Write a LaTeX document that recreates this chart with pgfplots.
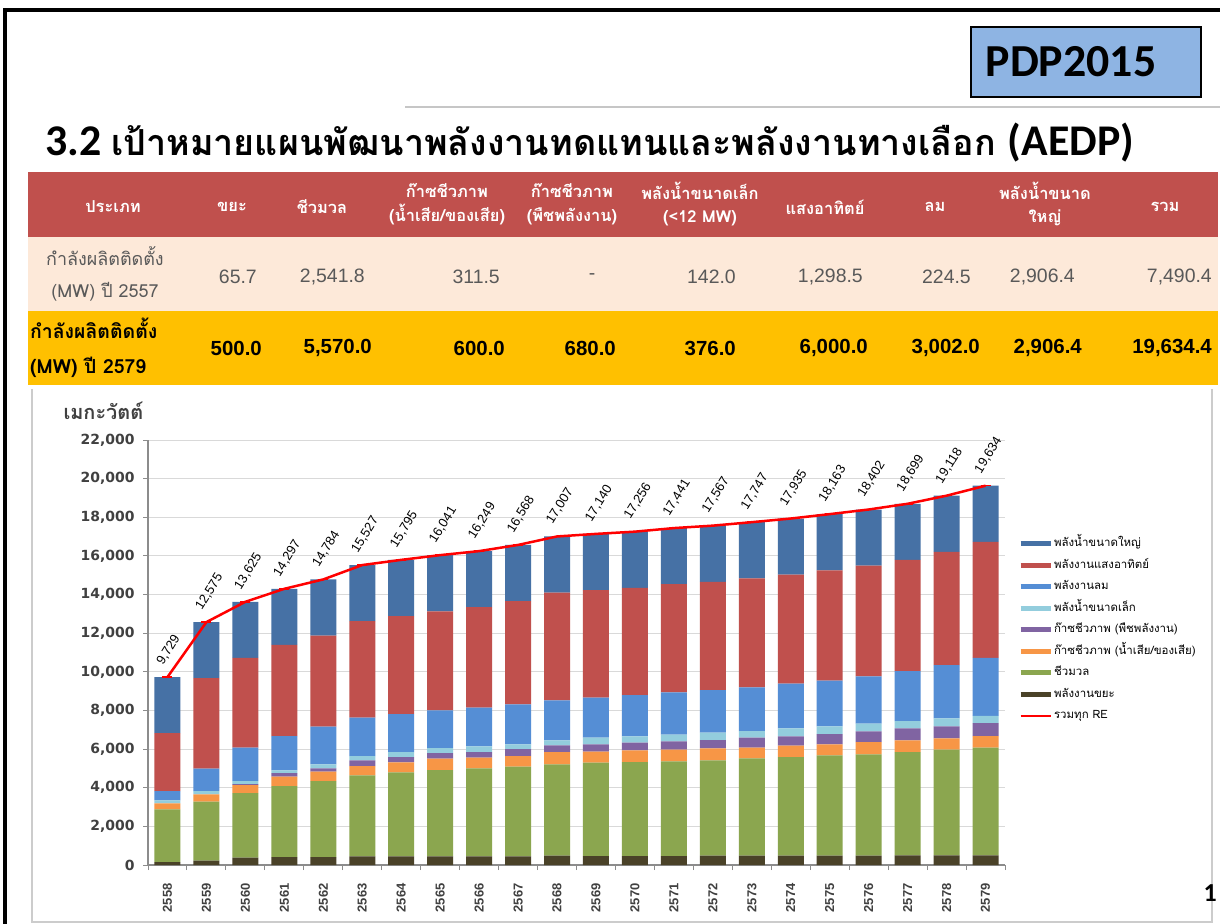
\documentclass[border=0pt]{standalone}
\usepackage{fontspec}
\usepackage{pgfplots}
\usepackage{pgfplotstable}
\pgfplotsset{compat=1.18}
\setmainfont{Liberation Sans}
\newfontfamily\thai[Script=Thai]{Loma}
\newfontfamily\carl{Carlito}
\newfontfamily\dejavu{DejaVu Sans}
\newfontfamily\libs{Liberation Sans}
\definecolor{chydro}{HTML}{4671A5}
\definecolor{csolar}{HTML}{C0504D}
\definecolor{cwind}{HTML}{558ED5}
\definecolor{csh}{HTML}{93CDDD}
\definecolor{cbgc}{HTML}{8064A2}
\definecolor{cbgw}{HTML}{F79646}
\definecolor{cbio}{HTML}{8BA64F}
\definecolor{cwaste}{HTML}{4A4228}
\definecolor{totred}{HTML}{FF0000}
\definecolor{gridgray}{HTML}{D9D9D9}
\definecolor{axisgray}{HTML}{8C8C8C}
\definecolor{tickgray}{HTML}{404040}
\definecolor{hdrred}{HTML}{C0504D}
\definecolor{row1}{HTML}{FDE9D9}
\definecolor{row2}{HTML}{FFC000}
\definecolor{pdpblue}{HTML}{8EB4E3}
\definecolor{row1txt}{HTML}{595959}

\pgfplotstableread{
x waste bio bgw bgc sh wind solar hydro total
0 155 2726 310 0 156 483 2993 2906 9729
1 224 3054 379 0 173 1155 4684 2906 12575
2 380 3346 414 50 157 1725 4647 2906 13625
3 414 3674 483 190 138 1777 4715 2906 14297
4 414 3933 483 173 207 1949 4719 2906 14784
5 449 4191 483 294 224 1984 4996 2906 15527
6 449 4347 517 276 259 1966 5075 2906 15795
7 449 4467 587 293 259 1949 5131 2906 16041
8 449 4554 552 293 293 2001 5201 2906 16249
9 449 4640 552 362 242 2070 5347 2906 16568
10 483 4727 638 345 259 2070 5579 2906 17007
11 466 4830 569 380 345 2070 5574 2906 17140
12 466 4864 604 397 328 2139 5552 2906 17256
13 466 4899 604 431 345 2191 5599 2906 17441
14 480 4937 621 431 379 2208 5605 2906 17567
15 480 5040 552 518 345 2259 5647 2906 17747
16 480 5109 587 483 414 2311 5645 2906 17935
17 490 5185 570 534 397 2363 5718 2906 18163
18 490 5237 638 552 397 2450 5732 2906 18402
19 500 5348 604 621 379 2588 5753 2906 18699
20 500 5469 586 621 414 2760 5862 2906 19118
21 500 5570 600 680 376 3002 6000 2906.4 19634.4
}\data

\begin{document}
\begin{tikzpicture}
\path[use as bounding box, fill=white] (0,0) rectangle (1220bp,-924bp);
\begin{scope}[x=1bp,y=-1bp]
 % slide border
 \draw[black, line width=3bp] (5,924) -- (5,10) -- (1220,10);
 \draw[gray!45, line width=2bp] (405,107) -- (1220,107);
 % PDP box
 \draw[fill=pdpblue, draw=black, line width=1.2bp] (971,27) rectangle (1201,97);
 \node[font=\carl\bfseries\fontsize{46}{46}\selectfont] at (1071,62) {PDP2015};
 % title
 \node[anchor=base west, inner sep=0] at (45,155) {\carl\bfseries\fontsize{44}{44}\selectfont 3.2 \thai\bfseries\fontsize{36}{44}\selectfont เป้าหมายแผนพัฒนาพลังงานทดแทนและพลังงานทางเลือก \carl\bfseries\fontsize{44}{44}\selectfont(AEDP)};
 % table
 \fill[hdrred] (28,172) rectangle (1218,237);
 \fill[row1] (28,237) rectangle (1218,311);
 \fill[row2] (28,311) rectangle (1218,385);
 \begin{scope}[every node/.style={font=\thai\bfseries\fontsize{16.5}{24}\selectfont, text=white, align=center}]
  \node at (113,207) {ประเภท};
  \node at (232,207) {ขยะ};
  \node at (322,207) {ชีวมวล};
  \node at (447,204) {ก๊าซชีวภาพ\\(น้ำเสีย/ของเสีย)};
  \node at (572,204) {ก๊าซชีวภาพ\\(พืชพลังงาน)};
  \node at (700,204) {พลังน้ำขนาดเล็ก\\(<12 MW)};
  \node at (825,207) {แสงอาทิตย์};
  \node at (935,207) {ลม};
  \node at (1045,204) {พลังน้ำขนาด\\ใหญ่};
  \node at (1165,207) {รวม};
 \end{scope}
 \begin{scope}[every node/.style={font=\libs\fontsize{19.5}{19.5}\selectfont, text=row1txt, inner sep=0}]
  \node[align=center, font=\thai\fontsize{18}{32}\selectfont] at (105,274) {กำลังผลิตติดตั้ง\\(MW) ปี 2557};
  \node[anchor=east] at (257,277) {65.7};
  \node[anchor=east] at (365,277) {2,541.8};
  \node[anchor=east] at (500,277) {311.5};
  \node at (592,277) {-};
  \node[anchor=east] at (736,277) {142.0};
  \node[anchor=east] at (863,277) {1,298.5};
  \node[anchor=east] at (971,277) {224.5};
  \node[anchor=east] at (1075,277) {2,906.4};
  \node[anchor=east] at (1212,277) {7,490.4};
 \end{scope}
 \begin{scope}[every node/.style={font=\libs\bfseries\fontsize{20.5}{20.5}\selectfont, text=black, inner sep=0}]
  \node[align=left, anchor=west, font=\thai\bfseries\fontsize{19.5}{35}\selectfont] at (30,348) {กำลังผลิตติดตั้ง\\(MW) ปี 2579};
  \node[anchor=east] at (262,348) {500.0};
  \node[anchor=east] at (372,348) {5,570.0};
  \node[anchor=east] at (505,348) {600.0};
  \node[anchor=east] at (616,348) {680.0};
  \node[anchor=east] at (736,348) {376.0};
  \node[anchor=east] at (868,348) {6,000.0};
  \node[anchor=east] at (980,348) {3,002.0};
  \node[anchor=east] at (1082,348) {2,906.4};
  \node[anchor=east] at (1212,348) {19,634.4};
 \end{scope}
 % chart frame
 \draw[gray!40, line width=1.5bp] (32,389) -- (32,922) -- (1212,922) -- (1212,389);
 \node[anchor=west, font=\thai\bfseries\fontsize{20}{20}\selectfont, text=tickgray] at (60,411) {เมกะวัตต์};
 \node[font=\carl\bfseries\fontsize{26}{26}\selectfont, anchor=west] at (1200,893) {1};
\end{scope}

\begin{axis}[
  at={(148bp,-865bp)}, anchor=south west,
  scale only axis, width=857bp, height=425bp,
  ybar stacked, bar width=26bp,
  xmin=-0.5, xmax=21.5, ymin=0, ymax=22000,
  enlargelimits=false,
  axis x line*=bottom, axis y line*=left,
  axis line style={draw=axisgray, line width=1.2bp},
  ytick={0,2000,...,22000},
  ymajorgrids=true,
  grid style={draw=gridgray, line width=1bp},
  xtick={-0.5,0.5,...,21.5},
  x tick label as interval,
  xticklabels={2558,2559,2560,2561,2562,2563,2564,2565,2566,2567,2568,2569,2570,2571,2572,2573,2574,2575,2576,2577,2578,2579},
  tick align=outside,
  major tick length=5bp,
  tick style={draw=axisgray, line width=1bp},
  scaled y ticks=false,
  /pgf/number format/assume math mode=true,
  /pgf/number format/1000 sep={,},
  yticklabel style={font=\dejavu\bfseries\fontsize{14}{14}\selectfont, text=tickgray, xshift=-5bp},
  xticklabel style={yshift=-10bp, rotate=90, anchor=east, font=\libs\bfseries\fontsize{13}{13}\selectfont, text=tickgray},
  legend cell align=left,
  legend style={at={(1.015,0.77)}, anchor=north west, draw=none, fill=none,
    font=\thai\fontsize{11.5}{12}\selectfont, row sep=9.5bp, inner sep=0pt,
    nodes={inner sep=1bp, text height=8bp, text depth=2bp}},
  legimg/.style={legend image code/.code={\draw[line width=5bp,draw=#1](0bp,0bp)--(30bp,0bp);}},
]
\addplot[fill=cwaste, draw=none, forget plot] table[x=x,y=waste]{\data};
\addplot[fill=cbio, draw=none, forget plot] table[x=x,y=bio]{\data};
\addplot[fill=cbgw, draw=none, forget plot] table[x=x,y=bgw]{\data};
\addplot[fill=cbgc, draw=none, forget plot] table[x=x,y=bgc]{\data};
\addplot[fill=csh, draw=none, forget plot] table[x=x,y=sh]{\data};
\addplot[fill=cwind, draw=none, forget plot] table[x=x,y=wind]{\data};
\addplot[fill=csolar, draw=none, forget plot] table[x=x,y=solar]{\data};
\addplot[fill=chydro, draw=none, forget plot] table[x=x,y=hydro]{\data};
\addlegendimage{legimg=chydro}\addlegendentry{พลังน้ำขนาดใหญ่}
\addlegendimage{legimg=csolar}\addlegendentry{พลังงานแสงอาทิตย์}
\addlegendimage{legimg=cwind}\addlegendentry{พลังงานลม}
\addlegendimage{legimg=csh}\addlegendentry{พลังน้ำขนาดเล็ก}
\addlegendimage{legimg=cbgc}\addlegendentry{ก๊าซชีวภาพ (พืชพลังงาน)}
\addlegendimage{legimg=cbgw}\addlegendentry{ก๊าซชีวภาพ (น้ำเสีย/ของเสีย)}
\addlegendimage{legimg=cbio}\addlegendentry{ชีวมวล}
\addlegendimage{legimg=cwaste}\addlegendentry{พลังงานขยะ}
\addlegendimage{legend image code/.code={\draw[line width=2bp,draw=totred](0bp,0bp)--(30bp,0bp);}}\addlegendentry{รวมทุก RE}
\end{axis}

\begin{axis}[
  at={(148bp,-865bp)}, anchor=south west,
  scale only axis, width=857bp, height=425bp,
  xmin=-0.5, xmax=21.5, ymin=0, ymax=22000,
  enlargelimits=false, axis lines=none, clip=false,
]
\addplot[draw=totred, line width=2.5bp,
  mark=-, mark size=5bp, mark options={solid, line width=1.5bp},
  point meta=y,
  nodes near coords={\pgfmathprintnumber[fixed,precision=0,1000 sep={,},assume math mode=true]{\pgfplotspointmeta}},
  every node near coord/.append style={font=\libs\fontsize{13}{13}\selectfont, text=black,
     inner sep=0pt, xshift=-8bp, yshift=13bp, rotate=58, anchor=west}]
  table[x=x,y=total]{\data};
\end{axis}
\end{tikzpicture}
\end{document}
